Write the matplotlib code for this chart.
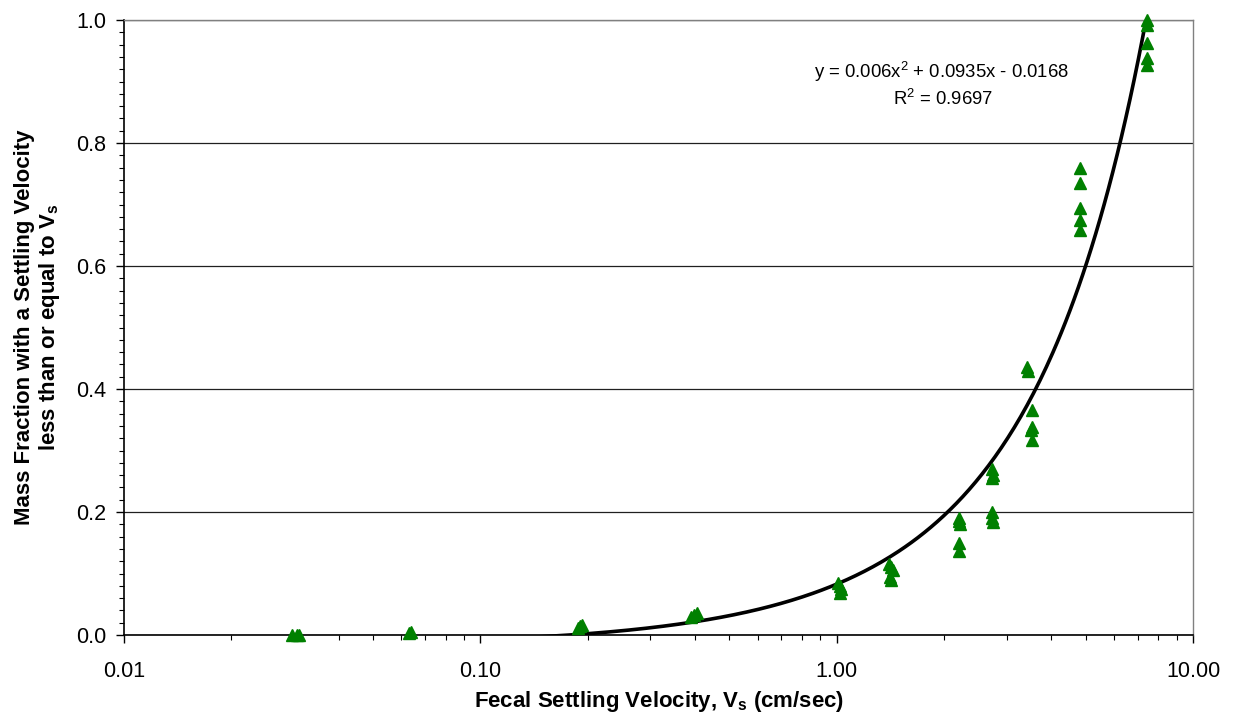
import numpy as np
import matplotlib
matplotlib.use("Agg")
import matplotlib.pyplot as plt
from matplotlib.ticker import FixedLocator, FixedFormatter, MultipleLocator, LogLocator, NullFormatter

plt.rcParams['font.family'] = ['Liberation Sans', 'DejaVu Sans']
plt.rcParams['mathtext.fontset'] = 'custom'
plt.rcParams['mathtext.rm'] = 'Liberation Sans'
plt.rcParams['mathtext.it'] = 'Liberation Sans:italic'
plt.rcParams['mathtext.bf'] = 'Liberation Sans:bold'

# Observed data (settling velocity cm/sec, mass fraction)
vel = [0.0297, 0.0305, 0.031,
       0.0630, 0.0640,
       0.188, 0.190, 0.193,
       0.390, 0.398, 0.405,
       1.01, 1.02, 1.03, 1.02,
       1.40, 1.42, 1.44, 1.41, 1.42,
       2.21, 2.20, 2.22, 2.21, 2.20,
       2.73, 2.74, 2.72, 2.73, 2.73, 2.74,
       3.42, 3.44, 3.53, 3.53, 3.52, 3.53,
       4.82, 4.82, 4.82, 4.82, 4.82,
       7.43, 7.43, 7.43, 7.43, 7.43]
frac = [0.0, 0.0, 0.0,
        0.003, 0.005,
        0.012, 0.015, 0.017,
        0.030, 0.033, 0.036,
        0.085, 0.080, 0.075, 0.068,
        0.115, 0.110, 0.105, 0.095, 0.090,
        0.190, 0.185, 0.180, 0.150, 0.137,
        0.270, 0.260, 0.255, 0.200, 0.190, 0.183,
        0.435, 0.430, 0.366, 0.338, 0.333, 0.317,
        0.759, 0.735, 0.694, 0.675, 0.659,
        1.000, 0.992, 0.963, 0.938, 0.927]

# Polynomial trendline coefficients
coef_a, coef_b, coef_c = 0.006, 0.0935, -0.0168
fit_label = "y = 0.006x$^{2}$ + 0.0935x - 0.0168"
r2_label = "R$^{2}$ = 0.9697"

xticks = [0.01, 0.1, 1.0, 10.0]
xticklabels = ["0.01", "0.10", "1.00", "10.00"]
yticks = [0.0, 0.2, 0.4, 0.6, 0.8, 1.0]
yticklabels = ["0.0", "0.2", "0.4", "0.6", "0.8", "1.0"]

fig = plt.figure(figsize=(12.36, 7.24), dpi=100)
ax = fig.add_axes([124/1236, 1-635/724, (1193-124)/1236, (635-20)/724])

xs = np.logspace(np.log10(min(vel)), np.log10(max(vel)), 400)
ys = coef_a*xs**2 + coef_b*xs + coef_c
ax.plot(xs, ys, color='black', lw=2.6, zorder=3)
ax.plot(vel, frac, linestyle='none', marker='^', color='#008000', markersize=8, zorder=4, clip_on=False)

ax.set_xscale('log')
ax.set_xlim(0.01, 10)
ax.set_ylim(0, 1)
ax.xaxis.set_major_locator(FixedLocator(xticks))
ax.xaxis.set_major_formatter(FixedFormatter(xticklabels))
ax.xaxis.set_minor_locator(LogLocator(base=10, subs=np.arange(2, 10)))
ax.xaxis.set_minor_formatter(NullFormatter())
ax.yaxis.set_major_locator(FixedLocator(yticks))
ax.yaxis.set_major_formatter(FixedFormatter(yticklabels))
ax.yaxis.set_minor_locator(MultipleLocator(0.02))

ax.tick_params(which='major', direction='out', length=6, width=1, labelsize=15.5, color='black')
ax.tick_params(which='minor', direction='out', length=3.5, width=0.8, color='black')
ax.tick_params(axis='x', which='major', pad=13)
ax.tick_params(axis='y', which='major', pad=7)

ax.grid(axis='y', which='major', color='#202020', lw=0.9)
ax.set_axisbelow(True)
for s in ['top', 'right']:
    ax.spines[s].set_color('#808080')
    ax.spines[s].set_linewidth(1)
for s in ['left', 'bottom']:
    ax.spines[s].set_color('black')
    ax.spines[s].set_linewidth(1.2)

ax.set_xlabel(r"Fecal Settling Velocity, $\mathbf{V_s}$ (cm/sec)", fontsize=16, fontweight='bold', va='center')
ax.xaxis.set_label_coords(0.501, (635-702)/615)
ax.set_ylabel("Mass Fraction with a Settling Velocity\n" + r"less than or equal to $\mathbf{V_s}$",
              fontsize=16, fontweight='bold', va='center', linespacing=1.1)
ax.yaxis.set_label_coords((38-124)/1069, 0.5)

fig.text(941/1236, 1-72/724, fit_label, ha='center', va='center', fontsize=13.3)
fig.text(943/1236, 1-99/724, r2_label, ha='center', va='center', fontsize=13.3)

fig.savefig('out.png', dpi=100)
